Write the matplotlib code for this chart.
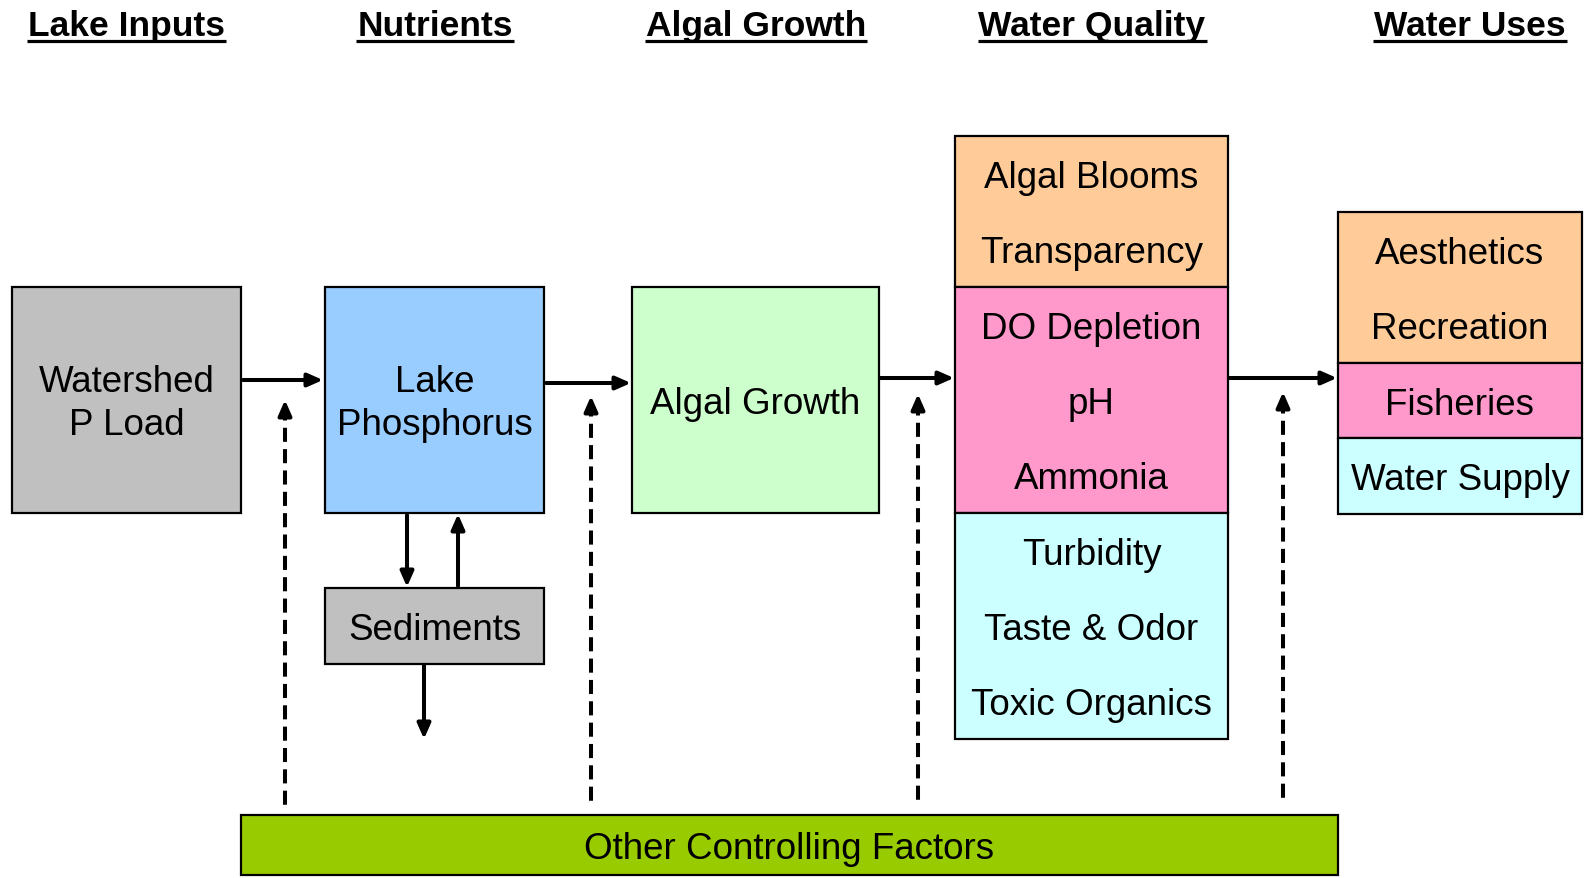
import matplotlib
matplotlib.use("Agg")
import matplotlib.pyplot as plt
from matplotlib.patches import Rectangle

# ---------------- data ----------------
headers = ["Lake Inputs", "Nutrients", "Algal Growth", "Water Quality", "Water Uses"]
header_x = [126, 435, 756, 1092, 1470]

wq_items = ["Algal Blooms", "Transparency", "DO Depletion", "pH", "Ammonia",
            "Turbidity", "Taste & Odor", "Toxic Organics"]
wq_groups = [2, 3, 3]
use_items = ["Aesthetics", "Recreation", "Fisheries", "Water Supply"]
use_groups = [2, 1, 1]
group_colors = ["#FFCC99", "#FF99CC", "#CCFFFF"]

FONT = "Liberation Sans"
FS = 26.5
HFS = 25.5

fig = plt.figure(figsize=(15.89, 8.79), dpi=100)
ax = fig.add_axes([0, 0, 1, 1])
ax.set_xlim(0, 1589)
ax.set_ylim(879, 0)
ax.axis("off")

CAP = 0.716 * FS * 100 / 72 / 2  # half cap height in px

ARROW = dict(arrowstyle="-|>,head_length=0.5,head_width=0.22",
             lw=2.9, color="black", shrinkA=0, shrinkB=0, mutation_scale=18)


def box(x0, y0, x1, y1, color):
    ax.add_patch(Rectangle((x0, y0), x1 - x0, y1 - y0, facecolor=color,
                           edgecolor="black", lw=1.6, zorder=2))


def label(x, y, s):
    ax.text(x, y + CAP, s, ha="center", va="baseline", fontsize=FS,
            family=FONT, zorder=5)


def arrow(x0, y0, x1, y1):
    ax.annotate("", xy=(x1, y1), xytext=(x0, y0), arrowprops=ARROW, zorder=4)


def dashed_arrow(x, y0, y1):
    head = 12
    ax.plot([x, x], [y0, y1 + head - 1], color="black", lw=2.9,
            ls=(4, (3.5, 1.8)), solid_capstyle="butt", zorder=4)
    ax.annotate("", xy=(x, y1), xytext=(x, y1 + head), arrowprops=ARROW,
                zorder=4)


# headers with underline
fig.canvas.draw()
renderer = fig.canvas.get_renderer()
inv = ax.transData.inverted()
for h, x in zip(headers, header_x):
    t = ax.text(x, 36, h, ha="center", va="baseline", fontsize=HFS,
                fontweight="bold", family=FONT)
    bb = t.get_window_extent(renderer)
    (dx0, _), (dx1, _) = inv.transform([(bb.x0, bb.y0), (bb.x1, bb.y0)])
    ax.plot([dx0 - 1, dx1 + 1], [41.5, 41.5], color="black", lw=2.3,
            solid_capstyle="butt")

# main boxes
box(12, 288, 241, 514, "#C0C0C0")
label(126.5, 379, "Watershed")
label(126.5, 422, "P Load")

box(325, 288, 544, 514, "#99CCFF")
label(434.5, 379, "Lake")
label(434.5, 422, "Phosphorus")

box(632, 288, 879, 514, "#CCFFCC")
label(755.5, 401, "Algal Growth")

box(325, 589, 544, 665, "#C0C0C0")
label(434.5, 627, "Sediments")

box(241, 816, 1338, 876, "#99CC00")
label(789.5, 846, "Other Controlling Factors")

# water quality column
row_h = (740 - 137) / 8
y = 137
i = 0
for n, c in zip(wq_groups, group_colors):
    box(955, y, 1228, y + n * row_h, c)
    for k in range(n):
        label(1091.5, y + (k + 0.5) * row_h, wq_items[i])
        i += 1
    y += n * row_h

# water uses column
y = 213
i = 0
for n, c in zip(use_groups, group_colors):
    box(1338, y, 1582, y + n * row_h, c)
    for k in range(n):
        label(1460, y + (k + 0.5) * row_h, use_items[i])
        i += 1
    y += n * row_h

# flow arrows
arrow(243, 381, 323, 381)
arrow(546, 384, 631, 384)
arrow(880, 379, 954, 379)
arrow(1229, 379, 1337, 379)

# sediment arrows
arrow(407, 516, 407, 588)
arrow(458, 587, 458, 515)
arrow(424, 666, 424, 740)

# dashed controlling-factor arrows
dashed_arrow(285, 811, 401)
dashed_arrow(591, 807, 397)
dashed_arrow(918, 806, 395)
dashed_arrow(1283, 804, 393)

fig.savefig("out.png", dpi=100, facecolor="white")
